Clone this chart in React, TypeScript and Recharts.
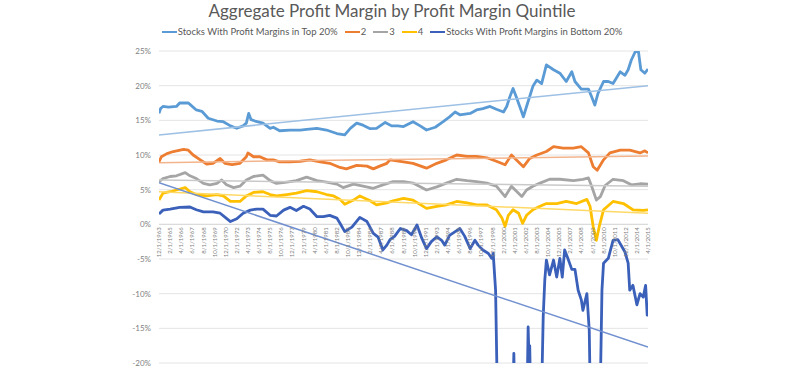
import React from 'react';
import { LineChart, Line, XAxis, YAxis, CartesianGrid, ReferenceLine } from 'recharts';

const TITLE = 'Aggregate Profit Margin by Profit Margin Quintile';
const SERIES_NAMES = [
  'Stocks With Profit Margins in Top 20%',
  '2',
  '3',
  '4',
  'Stocks With Profit Margins in Bottom 20%',
];
const SERIES_COLORS = ['#5B9BD5', '#ED7D31', '#A5A5A5', '#FFC000', '#3A60BA'];
const TREND_COLORS = ['#9DC0E4', '#F3B48C', '#C9C9C9', '#FFD966', '#7190CF'];

// [month index since 12/1963, percent]
const top20: [number, number][] = [
  [0, 16.0], [2, 16.7], [5, 17.0], [12, 16.9], [22, 17.0], [26, 17.5], [37, 17.5], [39, 17.3], [47, 16.5], [54, 16.3],
  [62, 15.3], [73, 14.9], [81, 14.8], [90, 14.2], [98, 13.85], [106, 14.2], [110, 14.6], [113, 16.0], [116, 15.1], [121, 14.9],
  [131, 14.6], [140, 13.85], [144, 14.0], [152, 13.5], [165, 13.6], [178, 13.6], [186, 13.7], [199, 13.85], [211, 13.6], [224, 13.1],
  [234, 12.9], [241, 13.85], [249, 14.6], [257, 14.3], [266, 13.8], [274, 13.85], [285, 14.7], [293, 14.2], [301, 14.2], [308, 14.1],
  [320, 14.8], [329, 14.2], [337, 13.6], [348, 14.0], [358, 14.8], [366, 15.5], [373, 16.2], [379, 15.8], [392, 16.0], [400, 16.5],
  [408, 16.7], [417, 17.0], [425, 16.6], [434, 16.2], [438, 17.0], [442, 18.4], [446, 19.6], [450, 18.4], [456, 16.5], [459, 15.5],
  [463, 17.0], [471, 19.9], [476, 20.8], [482, 20.3], [488, 23.0], [497, 22.3], [505, 21.8], [513, 20.6], [520, 22.0], [524, 20.6],
  [532, 19.5], [541, 19.5], [545, 18.4], [549, 17.2], [553, 18.9], [560, 20.6], [566, 20.6], [572, 20.3], [581, 22.0], [587, 21.5],
  [591, 22.3], [595, 23.7], [600, 24.9], [604, 24.9], [607, 22.3], [612, 21.8], [616, 22.4],
];

const q2: [number, number][] = [
  [0, 9.0], [3, 9.75], [10, 10.2], [18, 10.5], [31, 10.8], [37, 10.7], [43, 10.0], [52, 9.3], [60, 8.7], [68, 8.8],
  [77, 9.5], [83, 8.8], [92, 8.6], [102, 8.8], [110, 9.75], [112, 10.3], [119, 9.75], [127, 9.75], [136, 9.3], [144, 9.3],
  [152, 9.0], [165, 9.0], [178, 9.1], [190, 9.3], [203, 9.0], [215, 8.8], [228, 8.2], [236, 8.0], [249, 8.5], [262, 8.4],
  [270, 8.0], [278, 8.4], [287, 8.8], [291, 9.3], [308, 9.0], [320, 8.8], [337, 8.1], [350, 8.8], [362, 9.3], [375, 10.0],
  [388, 9.8], [400, 9.8], [413, 9.6], [425, 9.1], [436, 8.6], [444, 10.0], [450, 9.3], [459, 8.3], [467, 9.5], [476, 10.0],
  [488, 10.5], [497, 11.2], [509, 11.0], [522, 11.0], [532, 11.2], [541, 10.3], [547, 8.3], [552, 7.8], [560, 9.3], [568, 10.3],
  [581, 10.7], [593, 10.7], [606, 10.3], [612, 10.6], [616, 10.3],
];

const q3: [number, number][] = [
  [0, 6.15], [5, 6.6], [14, 6.9], [22, 7.0], [33, 7.45], [39, 7.0], [47, 6.6], [56, 5.9], [64, 5.7], [73, 5.9],
  [79, 6.4], [85, 5.7], [94, 5.3], [102, 5.5], [110, 6.4], [119, 6.9], [131, 7.1], [140, 6.3], [148, 5.9], [161, 6.1],
  [173, 6.3], [186, 6.8], [199, 6.3], [211, 6.1], [224, 5.8], [232, 5.3], [245, 5.8], [257, 5.5], [270, 5.2], [282, 5.7],
  [295, 6.15], [308, 6.15], [320, 5.95], [337, 4.95], [350, 5.4], [362, 5.95], [375, 6.5], [388, 6.3], [400, 6.15], [413, 5.95],
  [425, 5.5], [436, 4.0], [444, 5.5], [450, 4.8], [457, 4.0], [463, 4.95], [471, 5.5], [480, 5.95], [492, 6.5], [505, 6.5],
  [522, 6.3], [534, 6.5], [541, 6.7], [545, 5.5], [551, 3.5], [556, 4.0], [562, 5.6], [572, 6.5], [585, 6.3], [595, 5.7],
  [606, 5.85], [616, 5.8],
];

const q4: [number, number][] = [
  [0, 3.5], [5, 4.5], [14, 4.7], [22, 4.95], [33, 5.3], [39, 4.7], [47, 4.3], [60, 4.1], [73, 4.3], [81, 4.1],
  [90, 3.3], [102, 3.3], [110, 4.1], [119, 4.6], [131, 4.7], [140, 4.3], [148, 4.1], [161, 4.3], [173, 4.5], [186, 4.85],
  [199, 4.7], [211, 4.3], [220, 4.1], [228, 3.6], [234, 2.9], [245, 3.5], [253, 4.1], [266, 3.4], [274, 2.8], [287, 3.1],
  [295, 3.4], [308, 3.75], [320, 3.5], [337, 2.3], [350, 2.6], [362, 2.8], [375, 3.3], [388, 3.1], [400, 2.8], [413, 2.8],
  [425, 2.1], [432, 0.9], [436, -0.3], [440, 1.3], [446, 2.1], [453, 1.6], [458, 0.15], [463, 1.3], [471, 2.1], [480, 2.6],
  [488, 3.0], [501, 3.0], [513, 3.3], [526, 3.0], [539, 3.6], [543, 2.6], [547, -0.35], [551, -2.3], [555, -0.1], [560, 2.1],
  [572, 3.3], [585, 3.0], [597, 2.1], [610, 2.0], [616, 2.1],
];

const bottom20: [number, number][] = [
  [0, 1.5], [5, 2.05], [14, 2.2], [26, 2.45], [39, 2.5], [47, 2.1], [56, 1.8], [68, 1.8], [77, 1.6], [85, 0.85],
  [90, 0.4], [98, 0.8], [106, 1.6], [115, 2.05], [123, 2.2], [131, 2.2], [140, 1.3], [148, 1.2], [157, 2.05], [165, 2.45],
  [173, 2.0], [182, 2.6], [190, 2.2], [199, 1.1], [207, 1.1], [215, 1.3], [224, 0.9], [228, 0.15], [234, -1.05], [243, -0.4],
  [253, 1.0], [262, 0.4], [270, -1.3], [276, -1.85], [282, -3.7], [287, -3.0], [291, -2.2], [297, -1.7], [304, -0.6], [312, -0.9],
  [318, -1.5], [325, -0.1], [331, -2.0], [337, -3.5], [343, -2.5], [350, -1.8], [356, -2.3], [360, -3.0], [366, -1.6], [375, -0.9],
  [379, -0.6], [385, -1.7], [392, -3.5], [398, -2.3], [402, -3.0], [408, -3.7], [415, -4.2], [419, -4.9], [421, -4.2], [424, -9.5],
  [427, -30], [445, -30], [447, -18.6], [449, -30], [463, -30], [465, -14.8], [466, -19], [467, -17.5], [469, -30], [481, -30],
  [484, -13.3], [486, -8.0], [488, -5.15], [492, -7.3], [497, -5.15], [501, -7.6], [505, -4.9], [508, -7.6], [511, -3.7], [515, -4.9],
  [520, -6.5], [524, -6.5], [528, -9.5], [532, -10.9], [534, -12.4], [539, -10.0], [542, -15.3], [544, -30], [555, -30], [558, -9.5],
  [560, -5.6], [566, -4.9], [572, -2.3], [578, -2.2], [583, -3.2], [587, -4.0], [591, -5.6], [593, -9.5], [597, -8.8], [602, -11.6],
  [606, -10.0], [610, -10.5], [613, -8.8], [615, -13.1], [616, -12.9],
];

const SERIES_POINTS = [top20, q2, q3, q4, bottom20];

// linear trend lines: value at first and last month
const TREND_START = [12.9, 8.9, 6.4, 4.7, 6.0];
const TREND_END = [20.0, 9.85, 5.5, 1.6, -17.7];

const Y_TICKS = [-20, -15, -10, -5, 0, 5, 10, 15, 20, 25];
const X_TICK_LABELS = [
  '12/1/1963', '2/1/1965', '4/1/1966', '6/1/1967', '8/1/1968', '10/1/1969', '12/1/1970', '2/1/1972', '4/1/1973',
  '6/1/1974', '8/1/1975', '10/1/1976', '12/1/1977', '2/1/1979', '4/1/1980', '6/1/1981', '8/1/1982', '10/1/1983',
  '12/1/1984', '2/1/1986', '4/1/1987', '6/1/1988', '8/1/1989', '10/1/1990', '12/1/1991', '2/1/1993', '4/1/1994',
  '6/1/1995', '8/1/1996', '10/1/1997', '12/1/1998', '2/1/2000', '4/1/2001', '6/1/2002', '8/1/2003', '10/1/2004',
  '12/1/2005', '2/1/2007', '4/1/2008', '6/1/2009', '8/1/2010', '10/1/2011', '12/1/2012', '2/1/2014', '4/1/2015',
];
const MONTHS_PER_TICK = 14;
const LAST_MONTH = 616;

const W = 800;
const H = 368;
const X_AXIS_H = 1;
const MARGIN = { top: 51, right: 152, bottom: 4, left: 0 };
const Y_AXIS_W = 159;
const Y_MIN = -20;
const Y_MAX = 25;
const PLOT_H = H - MARGIN.top - MARGIN.bottom - X_AXIS_H;
const ZERO_Y = MARGIN.top + (PLOT_H * Y_MAX) / (Y_MAX - Y_MIN);

const FONT = 'Lato, "Open Sans", sans-serif';
const TEXT_COLOR = '#595959';

const seriesData = SERIES_POINTS.map((pts) => pts.map(([m, v]) => ({ m, v })));
const trendData = TREND_START.map((s, i) => [
  { m: 0, v: s },
  { m: LAST_MONTH, v: TREND_END[i] },
]);
const xTicks = X_TICK_LABELS.map((_, i) => i * MONTHS_PER_TICK);

const renderXTick = (props: any) => {
  const { x, payload } = props;
  const i = Math.round(Number(payload.value) / MONTHS_PER_TICK);
  return (
    <text
      key={`xt${i}`}
      transform={`translate(${x},${ZERO_Y + 3}) rotate(-90)`}
      textAnchor="end"
      dy="0.35em"
      fontSize={6}
      fontFamily={FONT}
      fill="#7F7F7F"
    >
      {X_TICK_LABELS[i]}
    </text>
  );
};

export default function App() {
  return (
    <div style={{ position: 'absolute', left: 0, top: 0, width: W, height: H, background: '#fff' }}>
      <div
        style={{
          position: 'absolute',
          left: 0,
          top: 1,
          width: 784,
          textAlign: 'center',
          fontFamily: FONT,
          fontSize: 17,
          color: TEXT_COLOR,
          lineHeight: '20px',
        }}
      >
        {TITLE}
      </div>
      <div
        style={{
          position: 'absolute',
          left: 0,
          top: 26,
          width: 784,
          display: 'flex',
          justifyContent: 'center',
          fontFamily: FONT,
          fontSize: 9.5,
          color: TEXT_COLOR,
          lineHeight: '12px',
          whiteSpace: 'nowrap',
        }}
      >
        {SERIES_NAMES.map((n, i) => (
          <div key={n} style={{ display: 'flex', alignItems: 'center', marginLeft: i === 0 ? 0 : 7 }}>
            <span
              style={{ display: 'inline-block', width: 15, height: 2, background: SERIES_COLORS[i], marginRight: 1 }}
            />
            <span>{n}</span>
          </div>
        ))}
      </div>
      <div style={{ position: 'absolute', left: 0, top: 0 }}>
        <LineChart width={W} height={H} margin={MARGIN}>
          <CartesianGrid horizontal vertical={false} stroke="#E4E4E4" strokeWidth={1} />
          <XAxis
            dataKey="m"
            type="number"
            domain={[0, LAST_MONTH]}
            ticks={xTicks}
            interval={0}
            height={X_AXIS_H}
            axisLine={false}
            tickLine={false}
            tick={renderXTick}
            allowDataOverflow
          />
          <YAxis
            type="number"
            domain={[Y_MIN, Y_MAX]}
            ticks={Y_TICKS}
            width={Y_AXIS_W}
            axisLine={false}
            tickLine={false}
            tickSize={0}
            tickMargin={8}
            allowDataOverflow
            tick={{ fontSize: 8, fill: '#7F7F7F', fontFamily: FONT }}
            tickFormatter={(v: number) => `${v}%`}
          />
          <ReferenceLine y={0} stroke="#D9D9D9" strokeWidth={1} />
          {seriesData.map((d, i) => (
            <Line
              key={`s${i}`}
              data={d}
              dataKey="v"
              name={SERIES_NAMES[i]}
              type="linear"
              stroke={SERIES_COLORS[i]}
              strokeWidth={2.8}
              dot={false}
              activeDot={false}
              isAnimationActive={false}
              strokeLinejoin="round"
            />
          ))}
          {trendData.map((d, i) => (
            <Line
              key={`t${i}`}
              data={d}
              dataKey="v"
              name={`trend ${i}`}
              type="linear"
              stroke={TREND_COLORS[i]}
              strokeWidth={1.5}
              dot={false}
              activeDot={false}
              legendType="none"
              isAnimationActive={false}
            />
          ))}
        </LineChart>
      </div>
    </div>
  );
}
